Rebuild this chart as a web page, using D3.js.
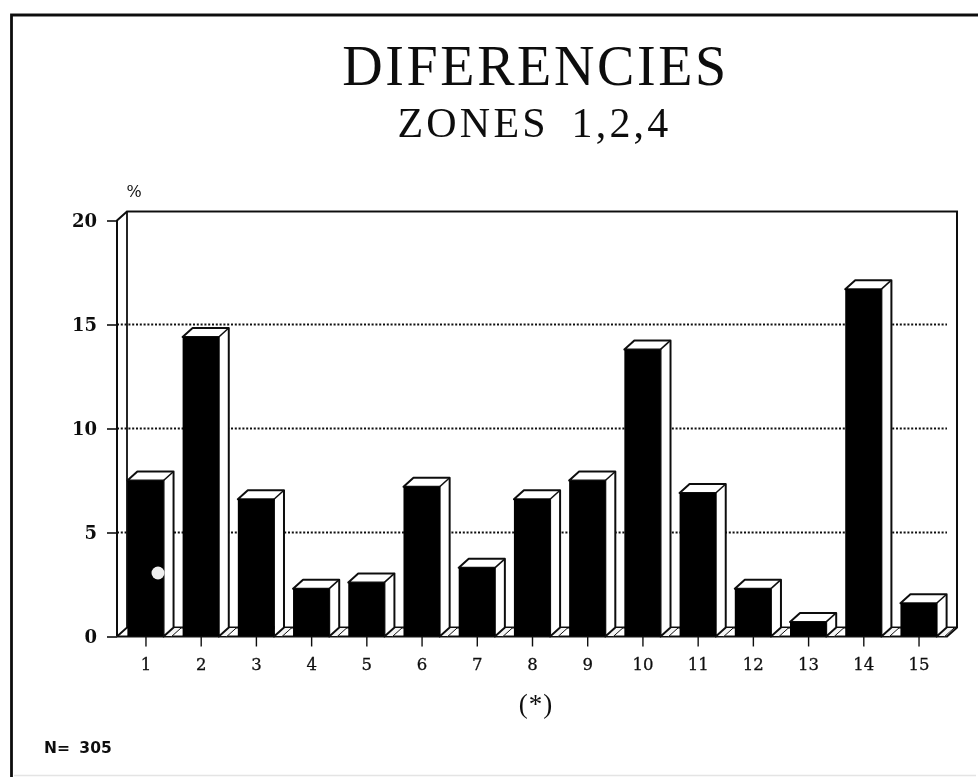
<!DOCTYPE html>
<html>
<head>
<meta charset="utf-8">
<script src="https://cdn.jsdelivr.net/npm/d3@7"></script>
<style>
  html, body { margin: 0; background: #fff; }
  svg { display: block; }
</style>
</head>
<body>
<svg id="chart" width="978" height="777"></svg>
<script>
const categories = ["1","2","3","4","5","6","7","8","9","10","11","12","13","14","15"];
const values = [7.5,14.4,6.6,2.3,2.6,7.2,3.3,6.6,7.5,13.8,6.9,2.3,0.7,16.7,1.6];
const yTicks = [0,5,10,15,20];

const root = d3.select("#chart");
const ink = "#111";
const depthX = 10, depthY = 9;

// slight softening, the original is a scanned page
root.append("defs").append("filter")
    .attr("id", "scan")
    .append("feGaussianBlur")
    .attr("stdDeviation", 0.45);
const svg = root.append("g").attr("filter", "url(#scan)");

const x = d3.scaleBand()
    .domain(categories)
    .range([118, 946])
    .paddingInner(0.345)
    .paddingOuter(0.17);

const y = d3.scaleLinear().domain([0, 20]).range([636.5, 220.5]);

// page frame
svg.append("path")
    .attr("d", "M11.5,777V15H978")
    .attr("fill", "none").attr("stroke", ink).attr("stroke-width", 2.8);
svg.append("path")
    .attr("d", "M14,775.5H976")
    .attr("fill", "none").attr("stroke", "#e4e4e4").attr("stroke-width", 1.5);

// back wall and side wall
const left = 117, right = 947;
svg.append("path")
    .attr("d", `M${left},${y(0)}V${y(20)}L${left + depthX},${y(20) - depthY}H${right + depthX}V${y(0) - depthY}L${right},${y(0)}H${left}`)
    .attr("fill", "none").attr("stroke", ink).attr("stroke-width", 2);
svg.append("path")
    .attr("d", `M${left + depthX},${y(20) - depthY}V${y(0) - depthY}H${right + depthX}M${left},${y(0)}L${left + depthX},${y(0) - depthY}`)
    .attr("fill", "none").attr("stroke", ink).attr("stroke-width", 1.8);

// dotted grid
svg.append("g").selectAll("line")
    .data(yTicks.filter(d => d > 0 && d < 20))
    .join("line")
    .attr("x1", left).attr("x2", right)
    .attr("y1", d => y(d)).attr("y2", d => y(d))
    .attr("stroke", ink).attr("stroke-width", 2)
    .attr("stroke-dasharray", "2 1.8");

// bars
const bars = svg.append("g").selectAll("g")
    .data(categories.map((c, i) => ({ c, v: values[i] })))
    .join("g");

bars.append("path") // floor shadow
    .attr("d", d => `M${x(d.c) + x.bandwidth()},${y(0)}l${depthX},${-depthY}h8l${-depthX},${depthY}z`)
    .attr("fill", "#f4f4f4").attr("stroke", ink).attr("stroke-width", 1);

bars.append("path") // top and side
    .attr("d", d => {
        const x0 = x(d.c), w = x.bandwidth(), t = y(d.v);
        return `M${x0},${t}l${depthX},${-depthY}h${w}v${y(0) - t}l${-depthX},${depthY}v${t - y(0)}h${-w}z`;
    })
    .attr("fill", "#fff").attr("stroke", ink).attr("stroke-width", 2).attr("stroke-linejoin", "round");

bars.append("path")
    .attr("d", d => `M${x(d.c) + x.bandwidth()},${y(d.v)}l${depthX},${-depthY}`)
    .attr("stroke", ink).attr("stroke-width", 1.6);

bars.append("rect")
    .attr("x", d => x(d.c))
    .attr("y", d => y(d.v))
    .attr("width", x.bandwidth())
    .attr("height", d => y(0) - y(d.v))
    .attr("fill", "#000");

// speck on the first bar
svg.append("ellipse")
    .attr("cx", 158).attr("cy", 573).attr("rx", 6.5).attr("ry", 6.5)
    .attr("fill", "#eee");

// axes
const tickFont = "'DejaVu Serif', serif";
const xAxis = svg.append("g")
    .attr("transform", `translate(0.5,${y(0)})`)
    .call(d3.axisBottom(x).tickSize(10).tickPadding(11.5));
xAxis.select(".domain").remove();
xAxis.selectAll("line").attr("stroke", ink).attr("stroke-width", 1.4);
xAxis.selectAll("text")
    .attr("font-family", tickFont).attr("font-size", 16.5).attr("fill", ink)
    .attr("stroke", ink).attr("stroke-width", 0.3);

const yAxis = svg.append("g")
    .attr("transform", `translate(${left},0)`)
    .call(d3.axisLeft(y).tickValues(yTicks).tickSize(10).tickPadding(10));
yAxis.select(".domain").remove();
yAxis.selectAll("line").attr("stroke", ink).attr("stroke-width", 1.6);
yAxis.selectAll("text")
    .attr("font-family", tickFont).attr("font-size", 18).attr("font-weight", "bold").attr("fill", ink);

// titles
svg.append("text").attr("x", 535.5).attr("y", 85).attr("text-anchor", "middle")
    .attr("font-family", "'Liberation Serif', serif").attr("font-size", 56)
    .attr("letter-spacing", 2.6).attr("fill", ink).text("DIFERENCIES");
svg.append("text").attr("x", 534.5).attr("y", 137).attr("text-anchor", "middle")
    .attr("font-family", "'Liberation Serif', serif").attr("font-size", 42)
    .attr("letter-spacing", 3.2).attr("word-spacing", 9).attr("fill", ink).text("ZONES 1,2,4");
svg.append("text").attr("x", 134).attr("y", 197).attr("text-anchor", "middle")
    .attr("font-family", tickFont).attr("font-size", 16).attr("fill", ink).text("%");
svg.append("text").attr("x", 536).attr("y", 713).attr("text-anchor", "middle")
    .attr("font-family", "'Liberation Serif', serif").attr("font-size", 27)
    .attr("letter-spacing", 1).attr("fill", ink).text("(*)");
svg.append("text").attr("x", 44).attr("y", 753)
    .attr("font-family", "'DejaVu Sans', sans-serif").attr("font-size", 15.5).attr("font-weight", "bold")
    .attr("word-spacing", 4).attr("fill", ink).text("N= 305");
</script>
</body>
</html>
